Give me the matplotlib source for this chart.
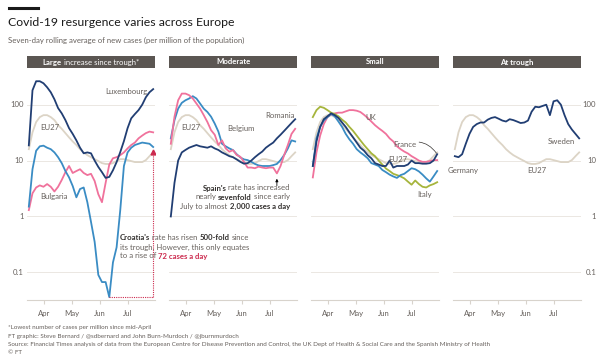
import matplotlib
matplotlib.use("Agg")
import matplotlib.pyplot as plt
import matplotlib.dates as mdates
from matplotlib.patches import Rectangle
from matplotlib.lines import Line2D
import numpy as np
import pandas as pd

plt.rcParams['font.family'] = ['Lato', 'DejaVu Sans']

# Dates every 4 days, 15 Mar - 29 Jul 2020
dates = pd.date_range("2020-03-15", "2020-07-29", freq="4D")

# Seven-day rolling average of new cases per million
eu27 = [16, 32, 49, 60, 65, 65, 60, 53, 43, 37, 31, 26, 22, 19, 16, 14, 12.5, 11.5,
        10.6, 9.8, 9.0, 8.7, 8.7, 9.0, 9.8, 10.6, 10.6, 10.2, 9.8, 9.4, 9.4, 9.4, 10.2, 12, 14]
luxembourg = [18.7, 181, 263, 263, 242, 205, 167, 125, 87, 70, 53, 38, 30, 23, 17, 13.5, 14,
              13.5, 10, 7.7, 6.2, 4.9, 5.1, 6.7, 9.4, 14.2, 22.3, 38, 57, 68, 80, 100, 136, 167, 190]
bulgaria = [1.3, 2.6, 3.3, 3.6, 3.4, 3.8, 3.4, 2.8, 3.4, 4.5, 6.2, 8.0, 6.0, 6.5, 7.0, 6.0, 5.5,
            5.8, 4.3, 2.5, 1.8, 4.0, 8.5, 11, 11.5, 12.5, 14, 16.5, 19, 21, 25, 28, 31, 33, 32]
croatia = [1.5, 7, 15, 18, 18.5, 17, 16, 14, 11.5, 9, 6.5, 5, 3.5, 2.2, 3.1, 3.3, 1.8, 0.8, 0.35,
           0.09, 0.067, 0.067, 0.036, 0.15, 0.28, 1.3, 8, 14, 17, 19, 20, 21, 20.5, 20, 17.5]
spain = [20, 61, 120, 158, 158, 148, 129, 105, 85, 65, 49, 35, 29, 19, 23, 16.5, 14.4, 15.4, 12.6,
         11.7, 9.5, 7.5, 7.5, 7.3, 7.8, 7.5, 7.3, 7.5, 7.5, 5.9, 8.0, 12.6, 19, 30, 37]
belgium = [25, 53, 85, 108, 120, 129, 142, 129, 105, 85, 74, 61, 46, 33, 20, 18, 16.5, 15.4, 13,
           11.4, 10.5, 10.2, 9.5, 8.7, 8.2, 8.0, 8.0, 8.0, 8.3, 8.7, 10.2, 12.6, 16.5, 23, 22]
romania = [1.0, 4, 10, 14, 15.5, 17, 18, 19, 18, 17.5, 17, 18, 16.5, 15.5, 14, 13, 12, 11.5, 10.5,
           9.5, 8.8, 9, 10, 11.5, 13, 14.5, 17, 19, 21, 25, 29, 34, 40, 47, 55]
uk = [5, 14, 28, 45, 60, 66, 70, 72, 72, 76, 80, 80, 78, 74, 66, 58, 50, 43, 38, 34, 30, 25, 22,
      18, 16, 14.5, 13.4, 12, 11, 10, 9.5, 9.5, 9.8, 10.2, 10.2]
france = [8, 22, 40, 55, 62, 70, 65, 58, 48, 40, 32, 26, 21, 17, 15, 12.5, 11, 9, 8.5, 8, 8, 10,
          7.5, 8, 8, 8, 8.5, 10, 9, 9, 8.8, 8.8, 9, 10, 13]
other_small = [8, 25, 40, 52, 60, 68, 62, 50, 40, 30, 24, 20, 16, 14, 12.5, 11, 9, 8.5, 8, 6.8,
               6.2, 5.6, 5.2, 4.9, 5.5, 5.8, 6.5, 7.3, 7, 6.4, 5.6, 4.8, 4.2, 5.2, 6.5]
italy = [60, 80, 92, 88, 80, 72, 68, 62, 54, 48, 40, 34, 28, 23, 19, 16, 13.5, 12, 10, 8.5, 7.2,
         6.5, 5.8, 5.5, 5.2, 4.8, 4.2, 3.7, 4.4, 3.8, 3.4, 3.3, 3.6, 3.8, 4.1]
sweden = [12, 11.5, 13, 20, 30, 40, 45, 48, 48, 54, 58, 60, 56, 52, 50, 55, 53, 50, 47, 48, 52,
          75, 92, 90, 95, 100, 65, 115, 120, 100, 65, 45, 36, 30, 25]

panel_titles = [("Large", "increase since trough*"), ("Moderate", ""), ("Small", ""), ("At trough", "")]
month_ticks = ["2020-04-01", "2020-05-01", "2020-06-01", "2020-07-01"]
month_labels = ["Apr", "May", "Jun", "Jul"]
y_ticks = [0.1, 1, 10, 100]
y_labels = ["0.1", "1", "10", "100"]

NAVY = "#213e73"
BLUE = "#3a8cc4"
PINK = "#f0729c"
BEIGE = "#dcd4c6"
GREEN = "#a6b53c"
RED = "#cc2a4e"
GREY_TXT = "#66605c"
DARK_TXT = "#33302e"

W, H = 612, 362
fig = plt.figure(figsize=(W / 100, H / 100), dpi=100)
fig.patch.set_facecolor("white")
renderer = fig.canvas.get_renderer()


def fx(x):
    return x / W


def fy(y):
    return 1 - y / H


def text_width(s, size, weight):
    t = fig.text(0, 0, s, fontsize=size, fontweight=weight)
    w = t.get_window_extent(renderer).width
    t.remove()
    return w


def rich_text(x, y, parts, size, align="left"):
    # parts: (text, weight, color), joined by single spaces
    gap = text_width("a a", size, "normal") - text_width("aa", size, "normal")
    widths = [text_width(s, size, wt) for s, wt, c in parts]
    total = sum(widths) + gap * (len(parts) - 1)
    if align == "center":
        x = x - total / 2
    elif align == "right":
        x = x - total
    for (s, wt, c), w in zip(parts, widths):
        fig.text(fx(x), fy(y), s, fontsize=size, fontweight=wt, color=c, va="center")
        x += w + gap


# title block
fig.add_artist(Line2D([fx(9), fx(38)], [fy(8), fy(8)], lw=2.2, color="#1a1a1a"))
fig.text(fx(8), fy(22), "Covid-19 resurgence varies across Europe", fontsize=8.8, color="#1a1a1a", va="center")
fig.text(fx(8), fy(40), "Seven-day rolling average of new cases (per million of the population)",
         fontsize=5.6, color=GREY_TXT, va="center")

x0 = mdates.date2num(pd.Timestamp("2020-03-13"))
x1 = mdates.date2num(pd.Timestamp("2020-07-31"))
axes = []
for k in range(4):
    left = 27 + 142 * k
    ax = fig.add_axes([fx(left), fy(300), 128 / W, 225 / H])
    ax.set_yscale("log")
    ax.set_ylim(0.032, 340)
    ax.set_xlim(x0, x1)
    for s in ["top", "left", "right"]:
        ax.spines[s].set_visible(False)
    ax.spines["bottom"].set_color("#d8d3cc")
    ax.spines["bottom"].set_linewidth(0.8)
    ax.set_yticks(y_ticks)
    ax.yaxis.set_minor_locator(matplotlib.ticker.NullLocator())
    ax.set_yticklabels([])
    ax.tick_params(axis="y", length=0)
    ax.grid(axis="y", color="#ebe7e2", lw=0.7)
    ax.set_axisbelow(True)
    ax.set_xticks([mdates.date2num(pd.Timestamp(d)) for d in month_ticks])
    ax.set_xticklabels(month_labels)
    ax.tick_params(axis="x", length=3, color="#d8d3cc", labelsize=5.6, labelcolor=GREY_TXT, pad=4)
    axes.append(ax)

    # header bar
    fig.add_artist(Rectangle((fx(left), fy(68)), 128 / W, 12 / H, transform=fig.transFigure,
                             facecolor="#5b5652", edgecolor="none"))
    bold, rest = panel_titles[k]
    parts = [(bold, "bold", "white")]
    if rest:
        parts.append((rest, "normal", "white"))
    rich_text(left + 64, 62, parts, 5.6, align="center")

# y labels panel 1 (left) and panel 4 (right)
for v, lab in zip(y_ticks, y_labels):
    axes[0].text(-0.025, v, lab, transform=axes[0].get_yaxis_transform(), ha="right", va="center",
                 fontsize=5.6, color=GREY_TXT)
    axes[3].text(1.12, v, lab, transform=axes[3].get_yaxis_transform(), ha="right", va="center",
                 fontsize=5.6, color=GREY_TXT)

lw = 1.3
# panel 1: large increase
ax = axes[0]
ax.plot(dates, eu27, color=BEIGE, lw=lw)
ax.plot(dates, bulgaria, color=PINK, lw=lw)
ax.plot(dates, croatia, color=BLUE, lw=lw)
ax.plot(dates, luxembourg, color=NAVY, lw=lw)
i_min = int(np.argmin(croatia))
ax.plot([dates[i_min], dates[-1]], [croatia[i_min], croatia[i_min]], color=RED, lw=0.8, ls=(0, (1, 1)))
ax.plot([dates[-1], dates[-1]], [croatia[i_min], croatia[-1] * 0.8], color=RED, lw=0.8, ls=(0, (1, 1)))
ax.plot([dates[-1]], [croatia[-1] * 0.8], marker="^", color=RED, ms=3.5)
fig.text(fx(147), fy(91), "Luxembourg", fontsize=5.6, color=GREY_TXT, ha="right", va="center")
fig.text(fx(40), fy(127), "EU27", fontsize=5.6, color=GREY_TXT, va="center")
fig.text(fx(40), fy(197), "Bulgaria", fontsize=5.6, color=GREY_TXT, va="center")
rich_text(120, 238, [("Croatia's", "bold", DARK_TXT), ("rate has risen", "normal", GREY_TXT),
                     ("500-fold", "bold", DARK_TXT), ("since", "normal", GREY_TXT)], 5.6)
rich_text(120, 247, [("its trough. However, this only equates", "normal", GREY_TXT)], 5.6)
rich_text(120, 256, [("to a rise of", "normal", GREY_TXT), ("72 cases a day", "bold", RED)], 5.6)

# panel 2: moderate
ax = axes[1]
ax.plot(dates, eu27, color=BEIGE, lw=lw)
ax.plot(dates, belgium, color=BLUE, lw=lw)
ax.plot(dates, spain, color=PINK, lw=lw)
ax.plot(dates, romania, color=NAVY, lw=lw)
ax.annotate("", xy=(dates[29], spain[29] * 0.9), xytext=(0, -9), textcoords="offset points",
            arrowprops=dict(arrowstyle="-|>", color="black", lw=0.6, mutation_scale=4))
fig.text(fx(295), fy(115), "Romania", fontsize=5.6, color=GREY_TXT, ha="right", va="center")
fig.text(fx(181), fy(128), "EU27", fontsize=5.6, color=GREY_TXT, va="center")
fig.text(fx(227), fy(128), "Belgium", fontsize=5.6, color=GREY_TXT, va="center")
rich_text(290, 188, [("Spain's", "bold", DARK_TXT), ("rate has increased", "normal", GREY_TXT)], 5.6, "right")
rich_text(290, 197, [("nearly", "normal", GREY_TXT), ("sevenfold", "bold", DARK_TXT),
                     ("since early", "normal", GREY_TXT)], 5.6, "right")
rich_text(290, 206, [("July to almost", "normal", GREY_TXT), ("2,000 cases a day", "bold", DARK_TXT)],
          5.6, "right")

# panel 3: small
ax = axes[2]
ax.plot(dates, eu27, color=BEIGE, lw=lw)
ax.plot(dates, uk, color=PINK, lw=lw)
ax.plot(dates, italy, color=GREEN, lw=lw)
ax.plot(dates, other_small, color=BLUE, lw=lw)
ax.plot(dates, france, color=NAVY, lw=lw)
ax.annotate("France", xy=(dates[-1], france[-1]), xytext=(-15, 7), textcoords="offset points",
            fontsize=5.6, color=GREY_TXT, ha="right", va="center",
            arrowprops=dict(arrowstyle="-", color="#33302e", lw=0.5,
                            connectionstyle="arc3,rad=-0.4", shrinkA=0, shrinkB=1))
fig.text(fx(365), fy(118), "UK", fontsize=5.6, color=GREY_TXT, va="center")
fig.text(fx(388), fy(160), "EU27", fontsize=5.6, color=GREY_TXT, va="center")
fig.text(fx(417), fy(195), "Italy", fontsize=5.6, color=GREY_TXT, va="center")

# panel 4: at trough
ax = axes[3]
ax.plot(dates, eu27, color=BEIGE, lw=lw)
ax.plot(dates, sweden, color=NAVY, lw=lw)
fig.text(fx(575), fy(142), "Sweden", fontsize=5.6, color=GREY_TXT, ha="right", va="center")
fig.text(fx(448), fy(171), "Germany", fontsize=5.6, color=GREY_TXT, va="center")
fig.text(fx(527), fy(171), "EU27", fontsize=5.6, color=GREY_TXT, va="center")

# footer
foot = ["*Lowest number of cases per million since mid-April",
        "FT graphic: Steve Bernard / @sdbernard and John Burn-Murdoch / @jburnmurdoch",
        "Source: Financial Times analysis of data from the European Centre for Disease Prevention and Control, "
        "the UK Dept of Health & Social Care and the Spanish Ministry of Health",
        "\u00a9 FT"]
for i, line in enumerate(foot):
    fig.text(fx(8), fy(328 + 8.3 * i), line, fontsize=4.5, color=GREY_TXT, va="center")

fig.savefig("out.png", dpi=100, facecolor="white")
